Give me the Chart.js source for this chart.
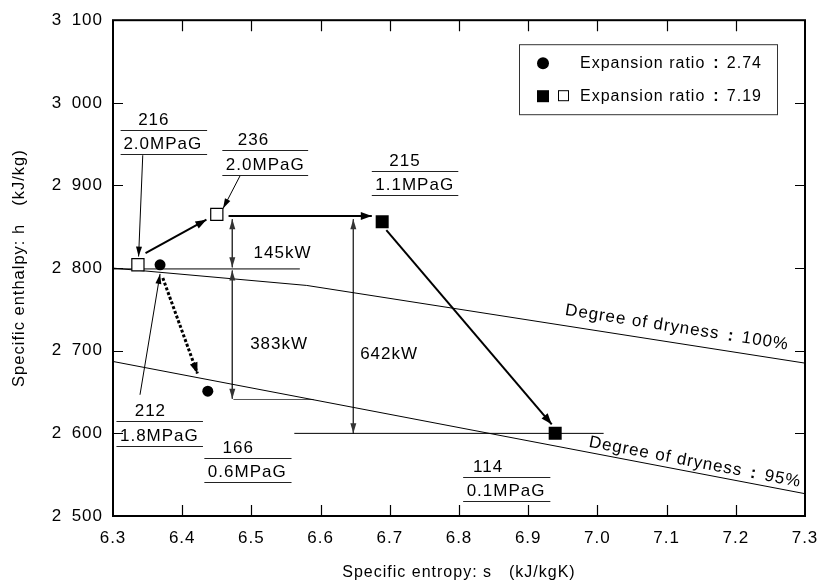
<!DOCTYPE html>
<html lang="en">
<head>
<meta charset="UTF-8">
<title>h-s diagram</title>
<script src="https://cdn.jsdelivr.net/npm/chart.js@4.4.1/dist/chart.umd.min.js"></script>
<style>
  body { margin: 0; background: #fff; }
  #wrap { width: 831px; height: 584px; }
</style>
</head>
<body>
<div id="wrap"><canvas id="hsChart" width="831" height="584"></canvas></div>
<script>
// ---- data (s in kJ/kgK, h in kJ/kg) ----
// state points
const openSqS = [6.336, 6.450];
const openSqH = [2804, 2865];
const fillSqS = [6.689, 6.939];
const fillSqH = [2856, 2600];
const circleS = [6.368, 6.437];
const circleH = [2804, 2651];

// degree of dryness lines
const dry100S = [6.30, 6.58, 7.30];
const dry100H = [2800, 2779, 2685];
const dry95S = [6.30, 7.30];
const dry95H = [2687, 2527];

// horizontal level lines
const levelH = [2799, 2641, 2600];
const levelFromS = [6.300, 6.474, 6.562];
const levelToS = [6.570, 6.590, 7.009];

// process arrows (expansion ratio 7.19)
const procFromS = [6.347, 6.467, 6.695];
const procFromH = [2818, 2863, 2846];
const procToS = [6.435, 6.674, 6.934];
const procToH = [2858.6, 2863, 2611];

// process arrow (expansion ratio 2.74)
const expFromS = [6.372];
const expFromH = [2788];
const expToS = [6.422];
const expToH = [2672.5];

// leader arrows from labels to points
const leadFromS = [6.343, 6.4835, 6.339];
const leadFromH = [2936.6, 2911.5, 2646.7];
const leadToS = [6.337, 6.459, 6.368];
const leadToH = [2814, 2872, 2793];

// power dimension arrows
const dimS = [6.4724, 6.4724, 6.6473];
const dimTopH = [2859, 2797, 2859];
const dimBotH = [2801, 2642, 2600];
const kwText = ['145kW', '383kW', '642kW'];
const kwS = [6.545, 6.540, 6.699];
const kwH = [2818, 2708, 2696];

// temperature / pressure labels
const fracTop = ['216', '236', '215', '212', '166', '114'];
const fracBottom = ['2.0MPaG', '2.0MPaG', '1.1MPaG', '1.8MPaG', '0.6MPaG', '0.1MPaG'];
const fracS0 = [6.311, 6.458, 6.674, 6.305, 6.432, 6.806];
const fracS1 = [6.436, 6.582, 6.799, 6.430, 6.558, 6.932];
const fracH1 = [2967, 2942.6, 2917.5, 2614.8, 2570.2, 2547.8];
const fracH2 = [2937.5, 2913.2, 2888.5, 2585.2, 2540.7, 2518.3];
const fracTopS = [6.359, 6.503, 6.722, 6.354, 6.481, 6.842];
const fracBotS = [6.372, 6.520, 6.736, 6.367, 6.494, 6.868];

// dryness labels
const dryLabel = 'Degree of dryness';
const dryValues = ['100%', '95%'];
const dryLabelS = [7.115, 7.141];
const dryLabelH = [2728, 2565];

// legend
const legendLabel = 'Expansion ratio';
const legendValues = ['2.74', '7.19'];

// axes
const sMin = 6.3, sMax = 7.3, sStep = 0.1;
const hMin = 2500, hMax = 3100, hStep = 100;

const family = "'Liberation Sans', Arial, Helvetica, sans-serif";
Chart.defaults.font.family = family;
Chart.defaults.color = '#000';

const pts = (s, h) => s.map((v, i) => ({ x: v, y: h[i] }));

function lineDs(data, extra) {
  return Object.assign({
    data: data, showLine: true, pointRadius: 0, pointHoverRadius: 0,
    borderColor: '#000', borderWidth: 1, fill: false, order: 2
  }, extra || {});
}

const datasets = [];
// dryness lines
datasets.push(lineDs(pts(dry100S, dry100H)));
datasets.push(lineDs(pts(dry95S, dry95H)));
// levels
levelH.forEach((h, i) => {
  datasets.push(lineDs([{ x: levelFromS[i], y: h }, { x: levelToS[i], y: h }],
    { borderColor: i === 1 ? '#555' : '#000' }));
});
// process arrows
procFromS.forEach((s, i) => {
  datasets.push(lineDs([{ x: s, y: procFromH[i] }, { x: procToS[i], y: procToH[i] }],
    { borderWidth: 2, arrowHeads: 'end', headLen: 11, headHalf: 4 }));
});
expFromS.forEach((s, i) => {
  datasets.push(lineDs([{ x: s, y: expFromH[i] }, { x: expToS[i], y: expToH[i] }],
    { borderWidth: 3, borderDash: [3, 2], arrowHeads: 'end', headLen: 11, headHalf: 4 }));
});
leadFromS.forEach((s, i) => {
  datasets.push(lineDs([{ x: s, y: leadFromH[i] }, { x: leadToS[i], y: leadToH[i] }],
    { arrowHeads: 'end', headLen: 10, headHalf: 3 }));
});
dimS.forEach((s, i) => {
  datasets.push(lineDs([{ x: s, y: dimTopH[i] }, { x: s, y: dimBotH[i] }],
    { borderColor: '#333', arrowHeads: 'both', headLen: 10, headHalf: 3 }));
});
// markers
datasets.push({
  data: pts(circleS, circleH), pointStyle: 'circle', pointRadius: 5.5,
  pointBackgroundColor: '#000', pointBorderColor: '#000', pointBorderWidth: 0, order: 0
});
datasets.push({
  data: pts(fillSqS, fillSqH), pointStyle: 'rect', pointRadius: 9.2,
  pointBackgroundColor: '#000', pointBorderColor: '#000', pointBorderWidth: 0, order: 0
});
datasets.push({
  data: pts(openSqS, openSqH), pointStyle: 'rect', pointRadius: 8.6,
  pointBackgroundColor: '#fff', pointBorderColor: '#000', pointBorderWidth: 1.2, order: 0
});

function head(ctx, tx, ty, fx, fy, len, half) {
  const a = Math.atan2(ty - fy, tx - fx);
  const c = Math.cos(a), s = Math.sin(a);
  ctx.beginPath();
  ctx.moveTo(tx, ty);
  ctx.lineTo(tx - len * c + half * s, ty - len * s - half * c);
  ctx.lineTo(tx - len * c - half * s, ty - len * s + half * c);
  ctx.closePath();
  ctx.fill();
}

// text with a heavy colon between head and tail
function colonWidth(ctx, headTxt, tail, size) {
  ctx.font = size + 'px ' + family;
  let w = ctx.measureText(headTxt).width + size * 0.5 + ctx.measureText(tail).width + size * 0.45;
  ctx.font = 'bold ' + size + 'px ' + family;
  return w + ctx.measureText(':').width;
}
function colonText(ctx, left, y, headTxt, tail, size) {
  ctx.textAlign = 'left';
  ctx.font = size + 'px ' + family;
  ctx.fillText(headTxt, left, y);
  let cx = left + ctx.measureText(headTxt).width + size * 0.5;
  ctx.font = 'bold ' + size + 'px ' + family;
  ctx.fillText(':', cx, y);
  cx += ctx.measureText(':').width + size * 0.45;
  ctx.font = size + 'px ' + family;
  ctx.fillText(tail, cx, y);
}

const spacing = {
  id: 'spacing',
  beforeDraw(chart) { chart.ctx.letterSpacing = '1px'; }
};

const arrows = {
  id: 'arrows',
  afterDatasetsDraw(chart) {
    const ctx = chart.ctx;
    chart.data.datasets.forEach((ds, i) => {
      if (!ds.arrowHeads) return;
      const p = chart.getDatasetMeta(i).data;
      const a = p[0], b = p[p.length - 1];
      ctx.save();
      ctx.fillStyle = ds.borderColor;
      head(ctx, b.x, b.y, a.x, a.y, ds.headLen, ds.headHalf);
      if (ds.arrowHeads === 'both') head(ctx, a.x, a.y, b.x, b.y, ds.headLen, ds.headHalf);
      ctx.restore();
    });
  }
};

const notes = {
  id: 'notes',
  afterDraw(chart) {
    const { ctx, chartArea: area, scales: { x, y } } = chart;
    ctx.save();
    ctx.letterSpacing = '1px';
    ctx.fillStyle = '#000';
    ctx.strokeStyle = '#000';
    ctx.textBaseline = 'middle';

    // frame and inward ticks
    ctx.lineWidth = 1.2;
    ctx.beginPath();
    x.ticks.forEach(t => {
      const px = Math.round(x.getPixelForValue(t.value)) + 0.5;
      if (px < area.left + 3 || px > area.right - 3) return;
      ctx.moveTo(px, area.bottom); ctx.lineTo(px, area.bottom - 11);
      ctx.moveTo(px, area.top); ctx.lineTo(px, area.top + 11);
    });
    y.ticks.forEach(t => {
      const py = Math.round(y.getPixelForValue(t.value)) + 0.5;
      if (py < area.top + 3 || py > area.bottom - 3) return;
      ctx.moveTo(area.left, py); ctx.lineTo(area.left + 10, py);
      ctx.moveTo(area.right, py); ctx.lineTo(area.right - 10, py);
    });
    ctx.stroke();
    ctx.lineWidth = 2;
    ctx.strokeRect(area.left, area.top, area.right - area.left, area.bottom - area.top);

    // temperature / pressure fractions
    ctx.lineWidth = 1;
    ctx.strokeStyle = '#222';
    ctx.font = '17px ' + family;
    ctx.textAlign = 'center';
    fracTop.forEach((t, i) => {
      const x0 = x.getPixelForValue(fracS0[i]), x1 = x.getPixelForValue(fracS1[i]);
      const y1 = Math.round(y.getPixelForValue(fracH1[i])) + 0.5;
      const y2 = Math.round(y.getPixelForValue(fracH2[i])) + 0.5;
      ctx.beginPath();
      ctx.moveTo(x0, y1); ctx.lineTo(x1, y1);
      ctx.moveTo(x0, y2); ctx.lineTo(x1, y2);
      ctx.stroke();
      ctx.fillText(t, x.getPixelForValue(fracTopS[i]), y1 - 10.5);
      ctx.fillText(fracBottom[i], x.getPixelForValue(fracBotS[i]), y2 - 10.5);
    });

    // power labels
    kwText.forEach((t, i) => {
      ctx.fillText(t, x.getPixelForValue(kwS[i]), y.getPixelForValue(kwH[i]));
    });

    // dryness labels, rotated along their lines
    const dryLines = [[dry100S, dry100H], [dry95S, dry95H]];
    dryValues.forEach((v, i) => {
      const [ls, lh] = dryLines[i];
      const n = ls.length;
      const ang = Math.atan2(
        y.getPixelForValue(lh[n - 1]) - y.getPixelForValue(lh[n - 2]),
        x.getPixelForValue(ls[n - 1]) - x.getPixelForValue(ls[n - 2]));
      ctx.save();
      ctx.translate(x.getPixelForValue(dryLabelS[i]), y.getPixelForValue(dryLabelH[i]));
      ctx.rotate(ang);
      const w = colonWidth(ctx, dryLabel, v, 17);
      colonText(ctx, -w / 2, 0, dryLabel, v, 17);
      ctx.restore();
    });

    // legend
    const lx = area.right - 286, ly = area.top + 24;
    ctx.lineWidth = 1;
    ctx.strokeStyle = '#333';
    ctx.strokeRect(lx + 0.5, ly + 0.5, 258, 70);
    const r1 = ly + 19, r2 = ly + 52;
    ctx.beginPath();
    ctx.arc(lx + 24, r1, 6, 0, Math.PI * 2);
    ctx.fill();
    ctx.fillRect(lx + 18, r2 - 6, 12, 12);
    ctx.strokeStyle = '#000';
    ctx.strokeRect(lx + 39.5, r2 - 5.5, 10, 10);
    colonText(ctx, lx + 61, r1, legendLabel, legendValues[0], 16);
    colonText(ctx, lx + 61, r2, legendLabel, legendValues[1], 16);
    ctx.restore();
  }
};

new Chart(document.getElementById('hsChart'), {
  type: 'scatter',
  data: { datasets: datasets },
  options: {
    responsive: false,
    animation: false,
    devicePixelRatio: 1,
    layout: { padding: { top: 14, right: 26, left: 0, bottom: 0 } },
    plugins: { legend: { display: false }, tooltip: { enabled: false } },
    scales: {
      x: {
        type: 'linear', min: sMin, max: sMax,
        grid: { display: false, drawTicks: false }, border: { display: false },
        ticks: {
          stepSize: sStep, padding: 12, font: { size: 17 },
          callback: v => Number(v).toFixed(1)
        },
        title: {
          display: true, text: 'Specific entropy: s\u3000(kJ/kgK)',
          font: { size: 16 }, padding: { top: 0, bottom: 2 }
        },
        afterFit: s => { s.height = 68; }
      },
      y: {
        type: 'linear', min: hMin, max: hMax,
        grid: { display: false, drawTicks: false }, border: { display: false },
        ticks: {
          stepSize: hStep, padding: 10, font: { size: 17 },
          callback: v => { const t = String(v); return t.slice(0, -3) + '\u2002' + t.slice(-3); }
        },
        title: {
          display: true, text: 'Specific enthalpy: h\u3000(kJ/kg)',
          font: { size: 16.5 }, padding: { top: 10, bottom: 0 }
        },
        afterFit: s => { s.width = 113; }
      }
    }
  },
  plugins: [spacing, arrows, notes]
});
</script>
</body>
</html>
